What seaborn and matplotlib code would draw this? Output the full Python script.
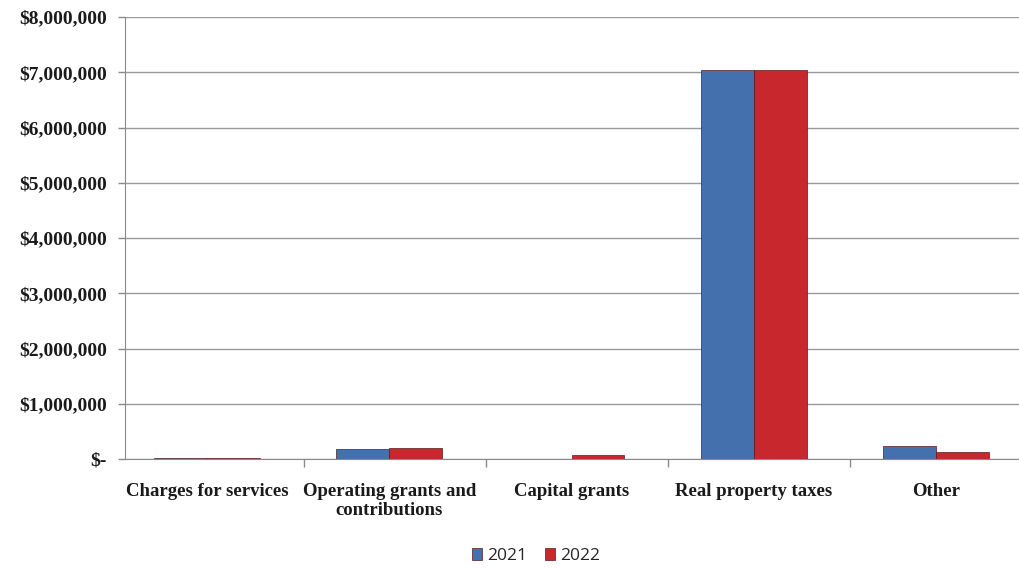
import pandas as pd
import seaborn as sns
import matplotlib.pyplot as plt
from matplotlib.ticker import FuncFormatter, FixedLocator

categories = ['Charges for services', 'Operating grants and\ncontributions',
              'Capital grants', 'Real property taxes', 'Other']
years = ['2021', '2022']
values_2021 = [15000, 190000, 0, 7050000, 235000]
values_2022 = [15000, 210000, 80000, 7050000, 130000]

df = pd.DataFrame({
    'category': categories * 2,
    'year': [years[0]] * 5 + [years[1]] * 5,
    'amount': values_2021 + values_2022,
})

sns.set_style('white')
fig = plt.figure(figsize=(10.2, 5.69), dpi=100)
ax = fig.add_axes([0.1225, 0.193, 0.8765, 0.777])

palette = {'2021': '#4470ad', '2022': '#c8272e'}
sns.barplot(data=df, x='category', y='amount', hue='year', palette=palette,
            width=0.58, edgecolor='#5a1a1a', linewidth=0.5, ax=ax, saturation=1)

ax.set_ylim(0, 8000000)
ax.set_xlim(-0.45, 4.455)
ax.yaxis.set_major_locator(FixedLocator(range(0, 8000001, 1000000)))
ax.yaxis.set_major_formatter(FuncFormatter(lambda v, p: '$-' if v == 0 else f'${v:,.0f}'))
ax.grid(axis='y', color='#9a9a9a', linewidth=1)
ax.set_axisbelow(True)

for s in ['top', 'right']:
    ax.spines[s].set_visible(False)
ax.spines['left'].set_color('#8a8a8a')
ax.spines['bottom'].set_color('#8a8a8a')

ax.set_xlabel('')
ax.set_ylabel('')
ax.set_xticks([i + 0.53 for i in range(0, 4)], minor=True)
ax.tick_params(axis='x', which='both', bottom=True)
ax.tick_params(axis='x', which='major', length=0, pad=17)
ax.tick_params(axis='x', which='minor', length=6, width=1, color='#8a8a8a', direction='out')
ax.tick_params(axis='y', left=True, length=5, width=1, color='#8a8a8a', direction='out', pad=8)

for lab in ax.get_xticklabels() + ax.get_yticklabels():
    lab.set_fontfamily('Liberation Serif')
    lab.set_fontweight('bold')
    lab.set_fontsize(14)
    lab.set_color('#1a1a1a')
for lab in ax.get_xticklabels():
    lab.set_fontsize(13.5)
    lab.set_linespacing(1.15)
    lab.set_verticalalignment('top')

ax.legend(loc='upper center', bbox_to_anchor=(0.46, -0.165), ncol=2, frameon=False,
          prop={'family': 'Open Sans', 'size': 12.5}, handlelength=0.6, handleheight=0.7,
          handletextpad=0.3, columnspacing=1.0)

plt.savefig('out.png', dpi=100)
plt.close()
